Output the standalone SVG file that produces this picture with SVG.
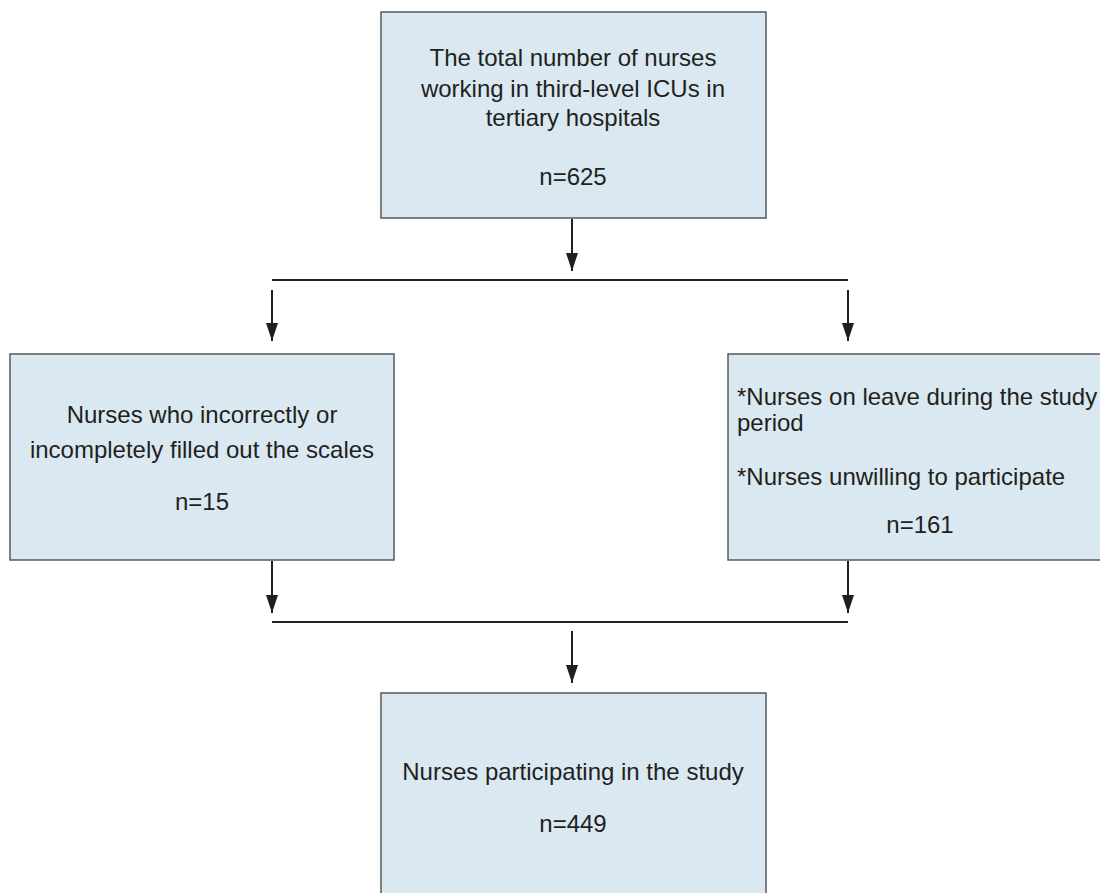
<svg xmlns="http://www.w3.org/2000/svg" width="1100" height="893" viewBox="0 0 1100 893">
<defs>
<marker id="ah" markerWidth="18" markerHeight="12" refX="18" refY="6" orient="auto" markerUnits="userSpaceOnUse" viewBox="0 0 18 12">
<path d="M0,0 L18,6 L0,12 Z" fill="#231f20"/>
</marker>
</defs>
<style>
.box{fill:#dae8f1;stroke:#58595b;stroke-width:1.5}
.t{font-family:"Liberation Sans",Arial,sans-serif;font-size:24px;fill:#231f20}
.c{text-anchor:middle}
.ln{stroke:#231f20;stroke-width:2;fill:none}
.ar{stroke:#231f20;stroke-width:2;fill:none;marker-end:url(#ah)}
</style>
<rect width="1100" height="893" fill="#fff"/>
<g id="total">
<rect class="box" x="381" y="12" width="385" height="206"/>
<text class="t c" x="573" y="66">The total number of nurses</text>
<text class="t c" x="573" y="97">working in third-level ICUs in</text>
<text class="t c" x="573" y="126">tertiary hospitals</text>
<text class="t c" x="573" y="185">n=625</text>
</g>
<g id="incorrect">
<rect class="box" x="10" y="354" width="384" height="206"/>
<text class="t c" x="202" y="423">Nurses who incorrectly or</text>
<text class="t c" x="202" y="458">incompletely filled out the scales</text>
<text class="t c" x="202" y="510">n=15</text>
</g>
<g id="excluded">
<rect class="box" x="728" y="354" width="400" height="206"/>
<text class="t" x="737" y="405">*Nurses on leave during the study</text>
<text class="t" x="737" y="431">period</text>
<text class="t" x="737" y="485">*Nurses unwilling to participate</text>
<text class="t c" x="920" y="533">n=161</text>
</g>
<g id="participants">
<rect class="box" x="381" y="693" width="385" height="220"/>
<text class="t c" x="573" y="780">Nurses participating in the study</text>
<text class="t c" x="573" y="832">n=449</text>
</g>
<g id="connectors">
<line class="ar" x1="572" y1="219" x2="572" y2="271"/>
<line class="ln" x1="272" y1="280" x2="848" y2="280"/>
<line class="ar" x1="272" y1="290" x2="272" y2="341"/>
<line class="ar" x1="848" y1="290" x2="848" y2="341"/>
<line class="ar" x1="272" y1="561" x2="272" y2="613"/>
<line class="ar" x1="848" y1="561" x2="848" y2="613"/>
<line class="ln" x1="272" y1="622" x2="848" y2="622"/>
<line class="ar" x1="572" y1="631" x2="572" y2="683"/>
</g>
</svg>
